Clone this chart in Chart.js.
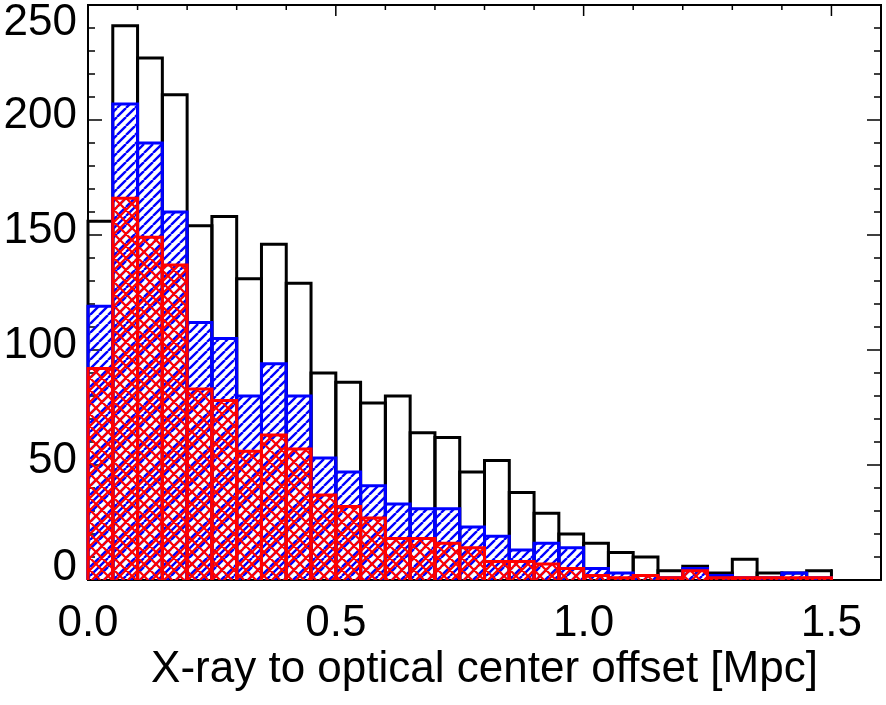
<!DOCTYPE html>
<html>
<head>
<meta charset="utf-8">
<script src="https://cdn.jsdelivr.net/npm/chart.js@4.4.1/dist/chart.umd.min.js"></script>
<style>
  html, body { margin: 0; padding: 0; background: #fff; }
  #wrap { width: 886px; height: 705px; }
</style>
</head>
<body>
<div id="wrap"><canvas id="histo"></canvas></div>
<script>
// centres des bins (largeur 0.05 Mpc)
const binCenters = [0.025, 0.075, 0.125, 0.175, 0.225, 0.275, 0.325, 0.375, 0.425, 0.475,
  0.525, 0.575, 0.625, 0.675, 0.725, 0.775, 0.825, 0.875, 0.925, 0.975,
  1.025, 1.075, 1.125, 1.175, 1.225, 1.275, 1.325, 1.375, 1.425, 1.475]

// tous les amas (noir)
const countsAll = [156, 241, 227, 211, 154, 158, 131, 146, 129, 90,
  86, 77, 80, 64, 62, 47, 52, 38, 29, 20,
  16, 12, 10, 4, 6, 3, 9, 3, 3, 4]
// sous-échantillon bleu (hachures /)
const countsBlue = [119, 207, 190, 160, 112, 105, 80, 94, 80, 53,
  47, 41, 33, 31, 31, 23, 19, 13, 16, 14,
  5, 3, 2, 1, 5, 2, 1, 1, 3, 1]
// sous-échantillon rouge (quadrillage)
const countsRed = [92, 166, 149, 137, 83, 78, 56, 63, 57, 37,
  32, 27, 18, 18, 16, 14, 8, 8, 7, 5,
  2, 1, 2, 1, 4, 1, 1, 1, 1, 1]

const xTickValues = [0, 0.5, 1.0, 1.5]
const yTickValues = [0, 50, 100, 150, 200, 250]

const FONT = 'Liberation Sans, Arial, Helvetica, sans-serif'

// motif de hachures sur un petit canvas
function hatch(color, step, dirs, lw) {
  const c = document.createElement('canvas')
  c.width = step
  c.height = step
  const g = c.getContext('2d')
  g.strokeStyle = color
  g.lineWidth = lw
  g.beginPath()
  for (let k = -1; k <= 1; k++) {
    if (dirs.includes('/')) { g.moveTo(k * step, step); g.lineTo(k * step + step, 0) }
    if (dirs.includes('\\')) { g.moveTo(k * step, 0); g.lineTo(k * step + step, step) }
  }
  g.stroke()
  return g.createPattern(c, 'repeat')
}

function toPoints(values) {
  return binCenters.map((c, i) => ({ x: c, y: values[i] }))
}

// cadre + graduations vers l'intérieur (dessiné sous les barres, comme IDL)
const framePlugin = {
  id: 'frame',
  beforeDatasetsDraw(chart) {
    const { ctx, chartArea: a } = chart
    const xs = chart.scales.x
    const ys = chart.scales.y
    ctx.save()
    ctx.strokeStyle = '#000'
    ctx.lineWidth = 2
    ctx.strokeRect(a.left, a.top, a.right - a.left, a.bottom - a.top)
    ctx.lineWidth = 1.5
    ctx.beginPath()
    for (let i = 0; i <= 16; i++) {
      const px = xs.getPixelForValue(i / 10)
      const len = i % 5 === 0 ? 11 : 5
      ctx.moveTo(px, a.top); ctx.lineTo(px, a.top + len)
      ctx.moveTo(px, a.bottom); ctx.lineTo(px, a.bottom - len)
    }
    for (let v = 0; v <= 250; v += 10) {
      const py = ys.getPixelForValue(v)
      const len = v % 50 === 0 ? 14 : 7
      ctx.moveTo(a.left, py); ctx.lineTo(a.left + len, py)
      ctx.moveTo(a.right, py); ctx.lineTo(a.right - len, py)
    }
    ctx.stroke()
    ctx.restore()
  },
  afterDraw(chart) {
    const { ctx, chartArea: a } = chart
    const ys = chart.scales.y
    ctx.save()
    ctx.fillStyle = '#000'
    ctx.font = '44px ' + FONT
    ctx.textAlign = 'right'
    ctx.textBaseline = 'middle'
    yTickValues.forEach(v => {
      let py = ys.getPixelForValue(v) - 4
      py = Math.min(Math.max(py, a.top + 18), a.bottom - 12) // labels gardés dans le cadre
      ctx.fillText(String(v), a.left - 11, py)
    })
    ctx.restore()
  }
}

// contour de chaque barre (gauche, haut, droite), centré sur les bords du bin
const outlinePlugin = {
  id: 'outline',
  afterDatasetDraw(chart, args) {
    const ds = chart.data.datasets[args.index]
    const ctx = chart.ctx
    ctx.save()
    ctx.strokeStyle = ds.lineColor
    ctx.lineWidth = 3
    ctx.lineJoin = 'miter'
    args.meta.data.forEach(bar => {
      const half = bar.width / 2
      ctx.beginPath()
      ctx.moveTo(bar.x - half, bar.base)
      ctx.lineTo(bar.x - half, bar.y)
      ctx.lineTo(bar.x + half, bar.y)
      ctx.lineTo(bar.x + half, bar.base)
      ctx.stroke()
    })
    ctx.restore()
  }
}

document.addEventListener('DOMContentLoaded', function () {
  const data = {
    datasets: [
      { label: 'all', data: toPoints(countsAll), backgroundColor: 'rgba(255,255,255,0)', lineColor: '#000000', order: 3 },
      { label: 'blue', data: toPoints(countsBlue), backgroundColor: hatch('#0000ff', 9, '/', 2.4), lineColor: '#0000ff', order: 2 },
      { label: 'red', data: toPoints(countsRed), backgroundColor: hatch('#ff0000', 12, '/\\', 2.2), lineColor: '#ff0000', order: 1 }
    ]
  }

  const config = {
    type: 'bar',
    data: data,
    options: {
      responsive: true,
      maintainAspectRatio: false,
      animation: false,
      layout: { padding: { top: 5, right: 5, left: 0, bottom: 0 } },
      plugins: { legend: { display: false }, tooltip: { enabled: false } },
      datasets: { bar: { grouped: false, barPercentage: 1, categoryPercentage: 1, borderWidth: 0 } },
      scales: {
        x: {
          type: 'linear', min: 0, max: 1.6, offset: false,
          grid: { display: false, drawTicks: false },
          border: { display: false },
          ticks: {
            stepSize: 0.1, autoSkip: false, maxRotation: 0, minRotation: 0, padding: 17,
            color: '#000', font: { family: FONT, size: 44 },
            callback: v => {
              const hit = xTickValues.find(t => Math.abs(t - v) < 1e-6)
              return hit === undefined ? '' : hit.toFixed(1)
            }
          },
          title: {
            display: true, text: 'X-ray to optical center offset [Mpc]', color: '#000',
            font: { family: FONT, size: 44 }, padding: { top: 0, bottom: 9 }
          },
          afterFit: s => {
            s.height = 125
            s.paddingLeft = 0 // le padding des labels ne doit pas réduire la zone du graphe
            s.paddingRight = 0
          }
        },
        y: {
          min: 0, max: 250,
          grid: { display: false, drawTicks: false },
          border: { display: false },
          ticks: { display: false },
          afterFit: s => { s.width = 88 }
        }
      }
    },
    plugins: [framePlugin, outlinePlugin]
  }

  new Chart(document.getElementById('histo'), config)
})
</script>
</body>
</html>
